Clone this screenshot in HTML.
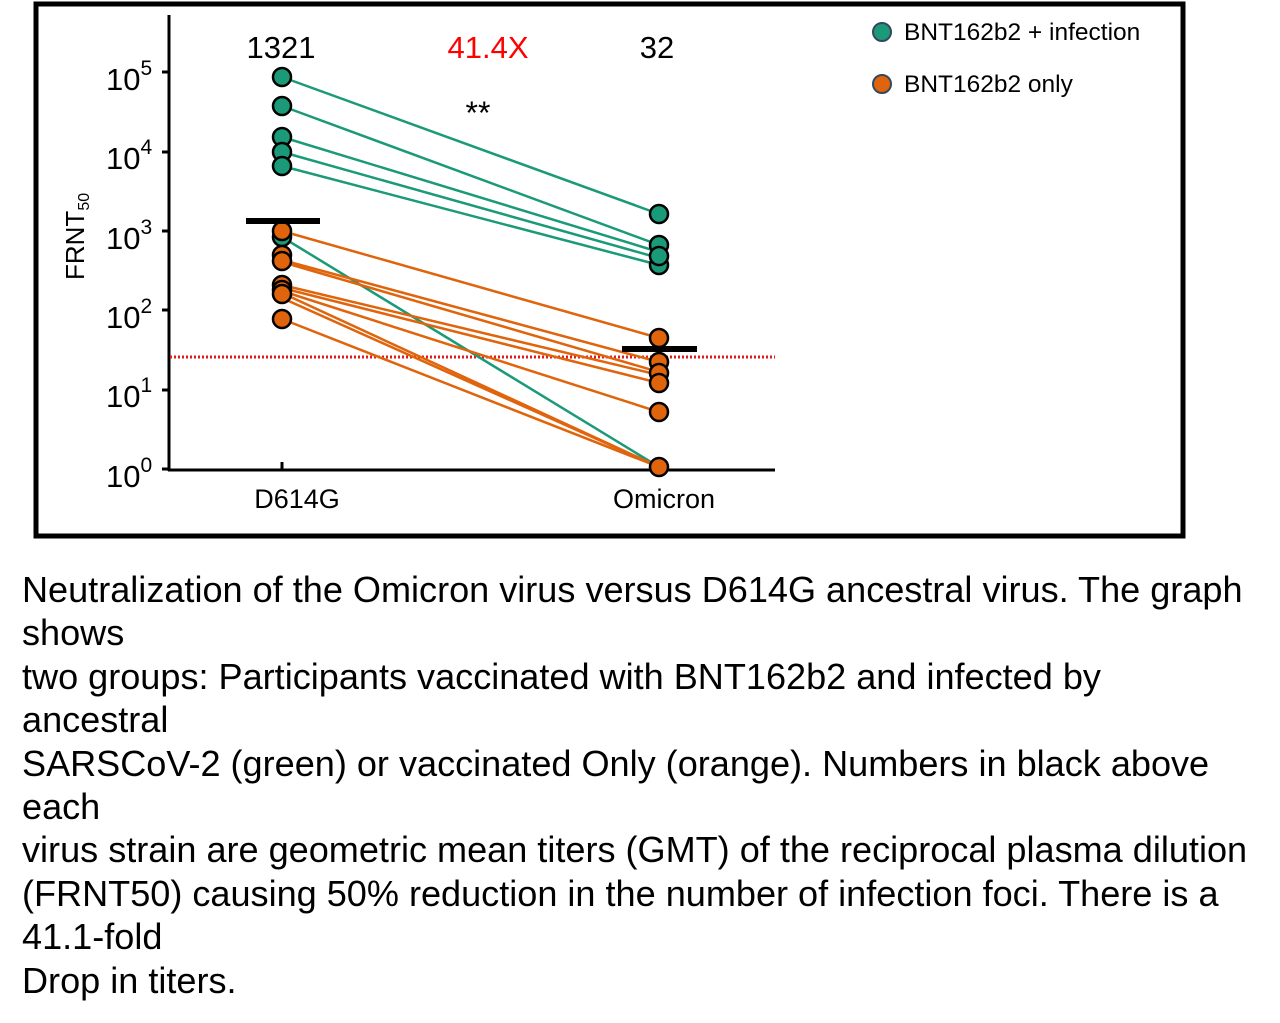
<!DOCTYPE html>
<html><head><style>
body{margin:0;background:#fff;width:1280px;height:1023px;overflow:hidden;font-family:"Liberation Sans",Arial,sans-serif;}
.cap{position:absolute;left:22px;top:568px;font-size:36.1px;line-height:43.4px;color:#000;margin:0;white-space:nowrap}
</style></head><body>
<svg width="1280" height="545" style="position:absolute;left:0;top:0" font-family="Liberation Sans, Arial, sans-serif">
<rect x="36" y="4" width="1147" height="532" fill="#fff" stroke="#000" stroke-width="5"/>
<line x1="169" y1="15" x2="169" y2="471" stroke="#000" stroke-width="3"/>
<line x1="168" y1="470" x2="775" y2="470" stroke="#000" stroke-width="3"/>
<g stroke="#000" stroke-width="3">
<line x1="162" y1="72" x2="169" y2="72"/><line x1="162" y1="152" x2="169" y2="152"/>
<line x1="162" y1="231" x2="169" y2="231"/><line x1="162" y1="310" x2="169" y2="310"/>
<line x1="162" y1="390" x2="169" y2="390"/><line x1="162" y1="469" x2="169" y2="469"/>
<line x1="282" y1="462" x2="282" y2="470"/>
</g>
<g font-size="31" fill="#000">
<text x="106" y="90">10<tspan font-size="21" dy="-15">5</tspan></text>
<text x="106" y="169">10<tspan font-size="21" dy="-15">4</tspan></text>
<text x="106" y="249">10<tspan font-size="21" dy="-15">3</tspan></text>
<text x="106" y="328">10<tspan font-size="21" dy="-15">2</tspan></text>
<text x="106" y="407">10<tspan font-size="21" dy="-15">1</tspan></text>
<text x="106" y="487">10<tspan font-size="21" dy="-15">0</tspan></text>
</g>
<text transform="translate(84,280) rotate(-90)" font-size="26" fill="#000">FRNT<tspan font-size="16" dy="5">50</tspan></text>
<text x="297" y="508" font-size="27" text-anchor="middle">D614G</text>
<text x="664" y="508" font-size="27" text-anchor="middle">Omicron</text>
<text x="281" y="58" font-size="31" text-anchor="middle">1321</text>
<text x="488" y="58" font-size="31" text-anchor="middle" fill="#f00">41.4X</text>
<text x="657" y="58" font-size="31" text-anchor="middle">32</text>
<text x="478" y="124" font-size="32" text-anchor="middle">**</text>
<line x1="170" y1="357" x2="775" y2="357" stroke="#e31a1c" stroke-width="3" stroke-dasharray="2,2"/>
<g stroke="#1a9a78" stroke-width="2.5">
<line x1="282" y1="77" x2="659" y2="214"/>
<line x1="282" y1="106" x2="659" y2="245"/>
<line x1="282" y1="137" x2="659" y2="252"/>
<line x1="282" y1="152" x2="659" y2="258"/>
<line x1="282" y1="166" x2="659" y2="265"/>
<line x1="282" y1="237" x2="659" y2="467"/>
</g>
<g stroke="#e0640c" stroke-width="2.5">
<line x1="282" y1="231" x2="659" y2="338"/>
<line x1="282" y1="260" x2="659" y2="362"/>
<line x1="282" y1="262" x2="659" y2="372"/>
<line x1="282" y1="285" x2="659" y2="375"/>
<line x1="282" y1="288" x2="659" y2="383"/>
<line x1="282" y1="291" x2="659" y2="412"/>
<line x1="282" y1="293" x2="659" y2="467"/>
<line x1="282" y1="298" x2="659" y2="467"/>
<line x1="282" y1="319" x2="659" y2="467"/>
</g>
<g stroke="#000" stroke-width="2.5" fill="#1a9a78">
<circle cx="282" cy="77" r="9"/><circle cx="282" cy="106" r="9"/>
<circle cx="282" cy="137" r="9"/><circle cx="282" cy="152" r="9"/><circle cx="282" cy="166" r="9"/>
<circle cx="282" cy="237" r="9"/>
<circle cx="659" cy="214" r="9"/><circle cx="659" cy="245" r="9"/>
<circle cx="659" cy="265" r="9"/><circle cx="659" cy="256" r="9"/>
</g>
<g stroke="#000" stroke-width="2.5" fill="#e0640c">
<circle cx="282" cy="231" r="9"/><circle cx="282" cy="255" r="9"/><circle cx="282" cy="261" r="9"/>
<circle cx="282" cy="285" r="9"/><circle cx="282" cy="290" r="9"/><circle cx="282" cy="294" r="9"/>
<circle cx="282" cy="319" r="9"/>
<circle cx="659" cy="338" r="9"/><circle cx="659" cy="362" r="9"/>
<circle cx="659" cy="373" r="9"/><circle cx="659" cy="383" r="9"/>
<circle cx="659" cy="412" r="9"/><circle cx="659" cy="467" r="9"/>
</g>
<rect x="246" y="218" width="74" height="6" fill="#000"/>
<rect x="622" y="346" width="75" height="6" fill="#000"/>
<circle cx="882" cy="32" r="9" fill="#1a9a78" stroke="#34495e" stroke-width="2"/>
<circle cx="882" cy="84" r="9" fill="#e0640c" stroke="#34495e" stroke-width="2"/>
<text x="904" y="40" font-size="24.5">BNT162b2 + infection</text>
<text x="904" y="92" font-size="24.5">BNT162b2 only</text>
</svg>
<p class="cap">Neutralization of the Omicron virus versus D614G ancestral virus. The graph<br>shows<br>two groups: Participants vaccinated with BNT162b2 and infected by<br>ancestral<br>SARSCoV-2 (green) or vaccinated Only (orange). Numbers in black above<br>each<br>virus strain are geometric mean titers (GMT) of the reciprocal plasma dilution<br>(FRNT50) causing 50% reduction in the number of infection foci. There is a<br>41.1-fold<br>Drop in titers.</p>
</body></html>
